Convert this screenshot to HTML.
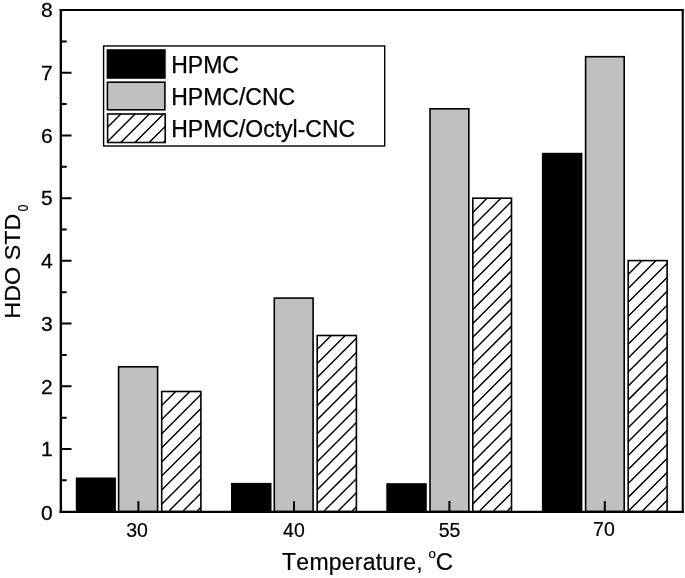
<!DOCTYPE html>
<html lang="en"><head><meta charset="utf-8"><title>HDO STD0 vs Temperature</title>
<style>html,body{margin:0;padding:0;background:#fff;}svg{display:block;}text{font-kerning:none;}</style></head><body>
<svg width="685" height="578" viewBox="0 0 685 578" font-family='"Liberation Sans", Arial, Helvetica, sans-serif' fill="#000">
<rect x="0" y="0" width="685" height="578" fill="#fff"/>
<rect x="75.80" y="477.50" width="40.10" height="34.05" fill="#000"/>
<rect x="118.60" y="366.80" width="39.00" height="144.75" fill="#c0c0c0" stroke="#000" stroke-width="1.6"/>
<rect x="160.90" y="390.70" width="40.80" height="120.85" fill="#fff"/>
<path d="M161.70 405.50L175.70 391.50M161.70 419.60L189.80 391.50M161.70 433.70L200.90 394.50M161.70 447.80L200.90 408.60M161.70 461.90L200.90 422.70M161.70 476.00L200.90 436.80M161.70 490.10L200.90 450.90M161.70 504.20L200.90 465.00M169.25 510.75L200.90 479.10M183.35 510.75L200.90 493.20M197.45 510.75L200.90 507.30" stroke="#000" stroke-width="1.45" fill="none"/>
<rect x="161.70" y="391.50" width="39.20" height="120.05" fill="none" stroke="#000" stroke-width="1.6"/>
<rect x="231.00" y="482.90" width="40.50" height="28.65" fill="#000"/>
<rect x="274.30" y="298.10" width="38.80" height="213.45" fill="#c0c0c0" stroke="#000" stroke-width="1.6"/>
<rect x="316.40" y="334.70" width="40.80" height="176.85" fill="#fff"/>
<path d="M317.20 349.50L331.20 335.50M317.20 363.53L345.23 335.50M317.20 377.56L356.40 338.36M317.20 391.59L356.40 352.39M317.20 405.62L356.40 366.42M317.20 419.65L356.40 380.45M317.20 433.68L356.40 394.48M317.20 447.71L356.40 408.51M317.20 461.74L356.40 422.54M317.20 475.77L356.40 436.57M317.20 489.80L356.40 450.60M317.20 503.83L356.40 464.63M324.31 510.75L356.40 478.66M338.34 510.75L356.40 492.69M352.37 510.75L356.40 506.72" stroke="#000" stroke-width="1.45" fill="none"/>
<rect x="317.20" y="335.50" width="39.20" height="176.05" fill="none" stroke="#000" stroke-width="1.6"/>
<rect x="386.30" y="483.20" width="40.50" height="28.35" fill="#000"/>
<rect x="430.00" y="108.80" width="38.85" height="402.75" fill="#c0c0c0" stroke="#000" stroke-width="1.6"/>
<rect x="472.00" y="197.40" width="40.30" height="314.15" fill="#fff"/>
<path d="M472.80 198.52L473.12 198.20M472.80 212.40L487.00 198.20M472.80 226.28L500.88 198.20M472.80 240.16L511.50 201.46M472.80 254.04L511.50 215.34M472.80 267.92L511.50 229.22M472.80 281.80L511.50 243.10M472.80 295.68L511.50 256.98M472.80 309.56L511.50 270.86M472.80 323.44L511.50 284.74M472.80 337.32L511.50 298.62M472.80 351.20L511.50 312.50M472.80 365.08L511.50 326.38M472.80 378.96L511.50 340.26M472.80 392.84L511.50 354.14M472.80 406.72L511.50 368.02M472.80 420.60L511.50 381.90M472.80 434.48L511.50 395.78M472.80 448.36L511.50 409.66M472.80 462.24L511.50 423.54M472.80 476.12L511.50 437.42M472.80 490.00L511.50 451.30M472.80 503.88L511.50 465.18M479.81 510.75L511.50 479.06M493.69 510.75L511.50 492.94M507.57 510.75L511.50 506.82" stroke="#000" stroke-width="1.45" fill="none"/>
<rect x="472.80" y="198.20" width="38.70" height="313.35" fill="none" stroke="#000" stroke-width="1.6"/>
<rect x="541.90" y="152.80" width="40.50" height="358.75" fill="#000"/>
<rect x="585.60" y="56.70" width="38.60" height="454.85" fill="#c0c0c0" stroke="#000" stroke-width="1.6"/>
<rect x="627.40" y="259.80" width="40.50" height="251.75" fill="#fff"/>
<path d="M628.20 274.50L642.10 260.60M628.20 288.43L656.03 260.60M628.20 302.36L667.10 263.46M628.20 316.29L667.10 277.39M628.20 330.22L667.10 291.32M628.20 344.15L667.10 305.25M628.20 358.08L667.10 319.18M628.20 372.01L667.10 333.11M628.20 385.94L667.10 347.04M628.20 399.87L667.10 360.97M628.20 413.80L667.10 374.90M628.20 427.73L667.10 388.83M628.20 441.66L667.10 402.76M628.20 455.59L667.10 416.69M628.20 469.52L667.10 430.62M628.20 483.45L667.10 444.55M628.20 497.38L667.10 458.48M628.76 510.75L667.10 472.41M642.69 510.75L667.10 486.34M656.62 510.75L667.10 500.27" stroke="#000" stroke-width="1.45" fill="none"/>
<rect x="628.20" y="260.60" width="38.90" height="250.95" fill="none" stroke="#000" stroke-width="1.6"/>
<path d="M60.85 9.0V512.8" stroke="#000" stroke-width="2.35" fill="none"/>
<path d="M59.6 10.0H683.8" stroke="#000" stroke-width="2.0" fill="none"/>
<path d="M682.75 9.0V512.8" stroke="#000" stroke-width="2.1" fill="none"/>
<path d="M59.6 511.85H683.8" stroke="#000" stroke-width="2.15" fill="none"/>
<path d="M60.85 480.34H66.7 M60.85 448.99H71.5 M60.85 417.63H66.7 M60.85 386.28H71.5 M60.85 354.92H66.7 M60.85 323.57H71.5 M60.85 292.21H66.7 M60.85 260.86H71.5 M60.85 229.50H66.7 M60.85 198.15H71.5 M60.85 166.79H66.7 M60.85 135.44H71.5 M60.85 104.08H66.7 M60.85 72.73H71.5 M60.85 41.38H66.7 M60.85 10.02H71.5 M138.4 511.55V501.1 M294.0 511.55V501.1 M449.4 511.55V501.1 M604.8 511.55V501.1" stroke="#000" stroke-width="2" fill="none"/>
<text transform="translate(52.75 519.50) scale(1.08 1)" font-size="19.5" text-anchor="end" stroke="#000" stroke-width="0.25">0</text>
<text transform="translate(52.75 456.29) scale(1.08 1)" font-size="19.5" text-anchor="end" stroke="#000" stroke-width="0.25">1</text>
<text transform="translate(52.75 393.58) scale(1.08 1)" font-size="19.5" text-anchor="end" stroke="#000" stroke-width="0.25">2</text>
<text transform="translate(52.75 330.87) scale(1.08 1)" font-size="19.5" text-anchor="end" stroke="#000" stroke-width="0.25">3</text>
<text transform="translate(52.75 268.16) scale(1.08 1)" font-size="19.5" text-anchor="end" stroke="#000" stroke-width="0.25">4</text>
<text transform="translate(52.75 205.45) scale(1.08 1)" font-size="19.5" text-anchor="end" stroke="#000" stroke-width="0.25">5</text>
<text transform="translate(52.75 142.74) scale(1.08 1)" font-size="19.5" text-anchor="end" stroke="#000" stroke-width="0.25">6</text>
<text transform="translate(52.75 80.03) scale(1.08 1)" font-size="19.5" text-anchor="end" stroke="#000" stroke-width="0.25">7</text>
<text transform="translate(52.75 17.32) scale(1.08 1)" font-size="19.5" text-anchor="end" stroke="#000" stroke-width="0.25">8</text>
<text x="137.00" y="536.8" font-size="19.5" text-anchor="middle" stroke="#000" stroke-width="0.2">30</text>
<text x="293.95" y="537.3" font-size="19.5" text-anchor="middle" stroke="#000" stroke-width="0.2">40</text>
<text x="449.50" y="537.2" font-size="19.5" text-anchor="middle" stroke="#000" stroke-width="0.2">55</text>
<text x="603.90" y="535.6" font-size="19.5" text-anchor="middle" stroke="#000" stroke-width="0.2">70</text>
<text x="282.1" y="569.6" font-size="23" letter-spacing="0.23" stroke="#000" stroke-width="0.2">Temperature,</text>
<text x="428.4" y="558.4" font-size="13.2" stroke="#000" stroke-width="0.2">o</text>
<text transform="translate(435.7 569.6) scale(1.04 1)" font-size="23" stroke="#000" stroke-width="0.2">C</text>
<text transform="translate(19.9 318.7) rotate(-90) scale(1.034 1)" font-size="22.6" stroke="#000" stroke-width="0.2">HDO STD</text>
<text transform="translate(28.4 211.4) rotate(-90) scale(0.9 1)" font-size="14" stroke="#000" stroke-width="0.2">0</text>
<rect x="103.6" y="45.95" width="281.10" height="100.05" fill="#fff" stroke="#000" stroke-width="1.4"/>
<rect x="106.6" y="49.2" width="59.1" height="29.6" fill="#000"/>
<rect x="107.39999999999999" y="82.2" width="57.5" height="27.599999999999998" fill="#c0c0c0" stroke="#000" stroke-width="1.6"/>
<path d="M107.60 127.30L120.90 114.00M107.60 141.50L135.10 114.00M120.80 142.50L149.30 114.00M135.00 142.50L163.50 114.00M149.20 142.50L165.20 126.50M163.40 142.50L165.20 140.70" stroke="#000" stroke-width="1.45" fill="none"/>
<rect x="107.6" y="114.0" width="57.6" height="28.5" fill="none" stroke="#000" stroke-width="1.6"/>
<text x="171.2" y="72.5" font-size="23" stroke="#000" stroke-width="0.25">HPMC</text>
<text x="171.2" y="105.4" font-size="23" stroke="#000" stroke-width="0.25">HPMC/CNC</text>
<text x="171.2" y="136.8" font-size="23" stroke="#000" stroke-width="0.25">HPMC/Octyl-CNC</text>
</svg></body></html>
